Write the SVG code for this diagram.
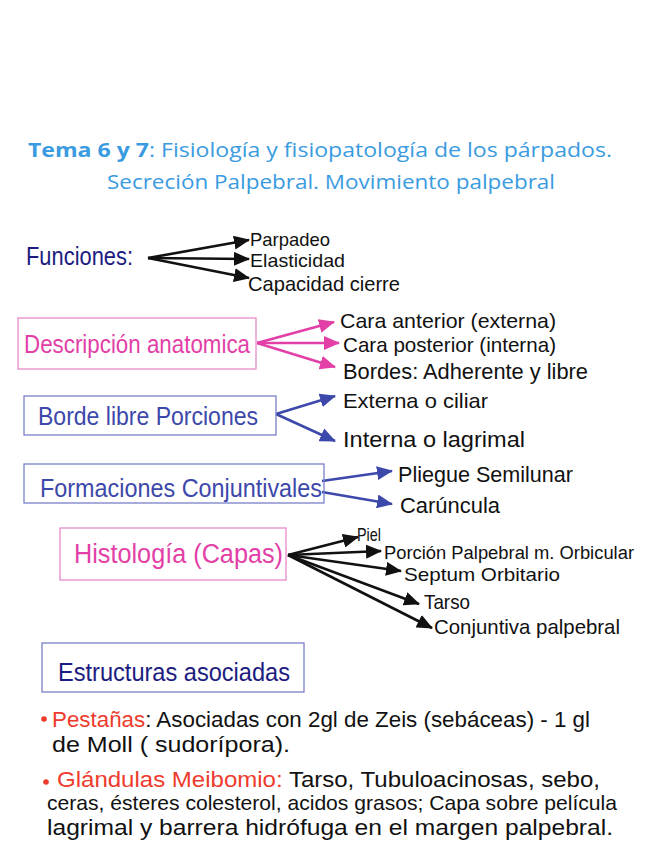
<svg xmlns="http://www.w3.org/2000/svg" width="646" height="848" viewBox="0 0 646 848">
<style>
.t{font-family:"Liberation Sans","DejaVu Sans",sans-serif}
.title{font-family:"Open Sans","Liberation Sans",sans-serif;fill:#3a9be0;font-size:20px}
.blk{fill:#111}
.navy{fill:#1c1c80}
.pink{fill:#e23fa7}
.blue{fill:#3d48ab}
.red{fill:#ee3b2c}
.box-pink{fill:none;stroke:#e88bcd;stroke-width:1.3}
.box-blue{fill:none;stroke:#7a80c8;stroke-width:1.3}
.c-blk{stroke:#111;stroke-width:2.6;fill:none}
.c-pink{stroke:#e23fa7;stroke-width:2.6;fill:none}
.c-blue{stroke:#3d48ab;stroke-width:2.6;fill:none}
</style>
<defs>
<marker id="ab" viewBox="0 0 16 14" refX="15" refY="7" markerWidth="16" markerHeight="14" markerUnits="userSpaceOnUse" orient="auto"><path d="M0,0 L16,7 L0,14 Z" fill="#111"/></marker>
<marker id="ap" viewBox="0 0 16 14" refX="15" refY="7" markerWidth="16" markerHeight="14" markerUnits="userSpaceOnUse" orient="auto"><path d="M0,0 L16,7 L0,14 Z" fill="#e23fa7"/></marker>
<marker id="au" viewBox="0 0 16 14" refX="15" refY="7" markerWidth="16" markerHeight="14" markerUnits="userSpaceOnUse" orient="auto"><path d="M0,0 L16,7 L0,14 Z" fill="#3d48ab"/></marker>
</defs>
<rect width="646" height="848" fill="#fff"/>

<g id="title">
<text class="title" x="28" y="157" textLength="584" lengthAdjust="spacingAndGlyphs"><tspan font-weight="bold">Tema 6 y 7</tspan>: Fisiología y fisiopatología de los párpados.</text>
<text class="title" x="107" y="189" textLength="448" lengthAdjust="spacingAndGlyphs">Secreción Palpebral. Movimiento palpebral</text>
</g>

<g id="connectors">
<line class="c-blk" x1="148" y1="258" x2="249" y2="240" marker-end="url(#ab)"/>
<line class="c-blk" x1="148" y1="258" x2="249" y2="259" marker-end="url(#ab)"/>
<line class="c-blk" x1="148" y1="258" x2="249" y2="278" marker-end="url(#ab)"/>
<line class="c-pink" x1="257" y1="343" x2="334" y2="322" marker-end="url(#ap)"/>
<line class="c-pink" x1="257" y1="343" x2="339" y2="343" marker-end="url(#ap)"/>
<line class="c-pink" x1="257" y1="343" x2="335" y2="367" marker-end="url(#ap)"/>
<line class="c-blue" x1="276" y1="414" x2="335" y2="396" marker-end="url(#au)"/>
<line class="c-blue" x1="276" y1="414" x2="335" y2="441" marker-end="url(#au)"/>
<line class="c-blue" x1="322" y1="481" x2="392" y2="471" marker-end="url(#au)"/>
<line class="c-blue" x1="322" y1="492" x2="392" y2="504" marker-end="url(#au)"/>
<line class="c-blk" x1="288" y1="555" x2="358" y2="537" marker-end="url(#ab)"/>
<line class="c-blk" x1="288" y1="555" x2="381" y2="551" marker-end="url(#ab)"/>
<line class="c-blk" x1="288" y1="555" x2="401" y2="571" marker-end="url(#ab)"/>
<line class="c-blk" x1="288" y1="555" x2="419" y2="604" marker-end="url(#ab)"/>
<line class="c-blk" x1="288" y1="555" x2="432" y2="628" marker-end="url(#ab)"/>
</g>

<g id="funciones">
<text class="t navy" x="26" y="265" font-size="26" textLength="107" lengthAdjust="spacingAndGlyphs">Funciones:</text>
</g>
<g id="funciones-items">
<text class="t blk" x="250" y="246" font-size="19" textLength="80" lengthAdjust="spacingAndGlyphs">Parpadeo</text>
<text class="t blk" x="250" y="267" font-size="19" textLength="95" lengthAdjust="spacingAndGlyphs">Elasticidad</text>
<text class="t blk" x="248" y="291" font-size="21" textLength="152" lengthAdjust="spacingAndGlyphs">Capacidad cierre</text>
</g>

<g id="descripcion">
<rect class="box-pink" x="18" y="318" width="238" height="51"/>
<text class="t pink" x="24" y="353" font-size="26" textLength="226" lengthAdjust="spacingAndGlyphs">Descripción anatomica</text>
</g>
<g id="descripcion-items">
<text class="t blk" x="340" y="328" font-size="21" textLength="216" lengthAdjust="spacingAndGlyphs">Cara anterior (externa)</text>
<text class="t blk" x="343" y="352" font-size="21" textLength="213" lengthAdjust="spacingAndGlyphs">Cara posterior (interna)</text>
<text class="t blk" x="343" y="379" font-size="22" textLength="245" lengthAdjust="spacingAndGlyphs">Bordes: Adherente y libre</text>
</g>

<g id="borde-libre">
<rect class="box-blue" x="24" y="396" width="252" height="39"/>
<text class="t blue" x="38" y="425" font-size="25" textLength="220" lengthAdjust="spacingAndGlyphs">Borde libre Porciones</text>
</g>
<g id="borde-items">
<text class="t blk" x="343" y="408" font-size="21" textLength="145" lengthAdjust="spacingAndGlyphs">Externa o ciliar</text>
<text class="t blk" x="343" y="447" font-size="22" textLength="182" lengthAdjust="spacingAndGlyphs">Interna o lagrimal</text>
</g>

<g id="formaciones">
<rect class="box-blue" x="24" y="464" width="300" height="39"/>
<text class="t blue" x="40" y="497" font-size="25" textLength="282" lengthAdjust="spacingAndGlyphs">Formaciones Conjuntivales</text>
</g>
<g id="formaciones-items">
<text class="t blk" x="398" y="482" font-size="22" textLength="175" lengthAdjust="spacingAndGlyphs">Pliegue Semilunar</text>
<text class="t blk" x="400" y="513" font-size="22" textLength="100" lengthAdjust="spacingAndGlyphs">Carúncula</text>
</g>

<g id="histologia">
<rect class="box-pink" x="60" y="528" width="226" height="52"/>
<text class="t pink" x="74" y="563" font-size="27" textLength="209" lengthAdjust="spacingAndGlyphs">Histología (Capas)</text>
</g>
<g id="histologia-items">
<text class="t blk" x="357" y="541" font-size="19" textLength="24" lengthAdjust="spacingAndGlyphs">Piel</text>
<text class="t blk" x="384" y="559" font-size="18" textLength="250" lengthAdjust="spacingAndGlyphs">Porción Palpebral m. Orbicular</text>
<text class="t blk" x="404" y="581" font-size="19" textLength="156" lengthAdjust="spacingAndGlyphs">Septum Orbitario</text>
<text class="t blk" x="424" y="609" font-size="21" textLength="46" lengthAdjust="spacingAndGlyphs">Tarso</text>
<text class="t blk" x="434" y="634" font-size="21" textLength="186" lengthAdjust="spacingAndGlyphs">Conjuntiva palpebral</text>
</g>

<g id="estructuras">
<rect class="box-blue" x="42" y="643" width="262" height="49"/>
<text class="t navy" x="58" y="681" font-size="26" textLength="232" lengthAdjust="spacingAndGlyphs">Estructuras asociadas</text>
</g>

<g id="pestanas">
<circle cx="44" cy="719" r="2.8" fill="#ee3b2c"/>
<text class="t blk" x="52" y="727" font-size="22" textLength="538" lengthAdjust="spacingAndGlyphs"><tspan class="red">Pestañas</tspan>: Asociadas con 2gl de Zeis (sebáceas) - 1 gl</text>
<text class="t blk" x="52" y="752" font-size="22" textLength="238" lengthAdjust="spacingAndGlyphs">de  Moll ( sudorípora).</text>
</g>

<g id="meibomio">
<circle cx="46" cy="782" r="2.8" fill="#ee3b2c"/>
<text class="t blk" x="57" y="787" font-size="22" textLength="543" lengthAdjust="spacingAndGlyphs"><tspan class="red">Glándulas Meibomio:</tspan> Tarso, Tubuloacinosas, sebo,</text>
<text class="t blk" x="47" y="810" font-size="21" textLength="570" lengthAdjust="spacingAndGlyphs">ceras, ésteres colesterol, acidos grasos; Capa sobre película</text>
<text class="t blk" x="47" y="835" font-size="22" textLength="566" lengthAdjust="spacingAndGlyphs">lagrimal y barrera hidrófuga en el margen palpebral.</text>
</g>
</svg>
